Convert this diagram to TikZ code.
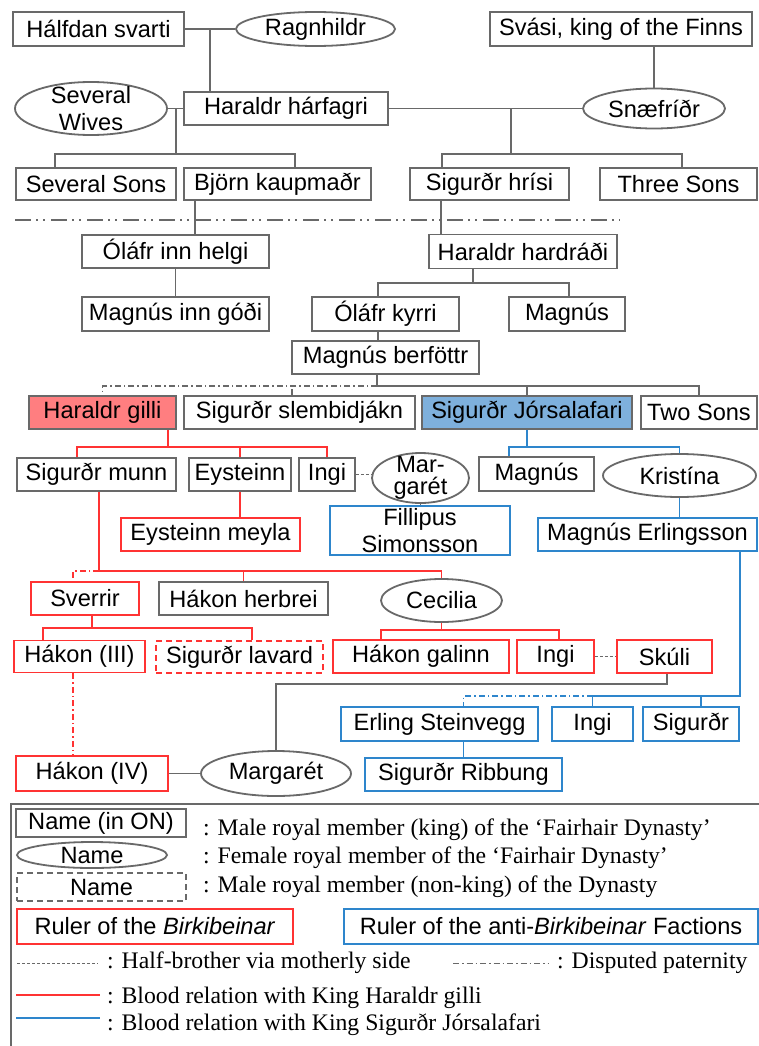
\documentclass[tikz,border=0pt]{standalone}
\usepackage{fontspec}
\setmainfont{Liberation Sans}
\newfontfamily\legendfont{Liberation Serif}
\usetikzlibrary{shapes.geometric}

\definecolor{linegray}{RGB}{105,105,105}
\definecolor{kinred}{RGB}{255,51,51}
\definecolor{kinblue}{RGB}{46,134,204}
\definecolor{gillifill}{RGB}{255,126,128}
\definecolor{jorfill}{RGB}{126,176,220}

\newcommand{\nodefont}{\fontsize{23.6}{27}\selectfont}
\newcommand{\legfont}{\legendfont\fontsize{23.7}{27}\selectfont}

\begin{document}
\begin{tikzpicture}[x=1pt, y=-1pt,
    sz/.style 2 args={minimum width=#1pt, minimum height=#2pt},
    male/.style={draw=linegray, rectangle, line width=1.8pt, inner sep=0pt, font=\nodefont},
    female/.style={draw=linegray, ellipse, line width=1.8pt, inner sep=0pt, font=\nodefont},
    nonking/.style={male, dash pattern=on 6pt off 4pt},
    birk/.style={male, draw=kinred},
    anti/.style={male, draw=kinblue},
    kin/.style={draw=linegray, line width=1.8pt},
    redkin/.style={draw=kinred, line width=1.8pt},
    bluekin/.style={draw=kinblue, line width=1.8pt},
    disp/.style={dash pattern=on 6pt off 3pt on 1.5pt off 3pt},
    halfbro/.style={kin, dash pattern=on 3pt off 2pt},
    legend/.style={anchor=base west, inner sep=0pt, font=\legfont}
  ]
  \fill[white] (0,0) rectangle (759,1046);
  \useasboundingbox (0,0) rectangle (759,1046);

  % Nodes
  \node[male, sz={171}{34}] (halfdan) at (98.5,29) {Hálfdan svarti};
  \node[female, sz={159}{34}] (ragnhildr) at (315.5,29) {Ragnhildr};
  \node[male, sz={262}{34}] (svasi) at (621,29) {Svási, king of the Finns};
  \node[female, sz={152}{53}, label={[align=center, font=\nodefont]center:{Several\\Wives}}] (wives) at (91,108.5) {};
  \node[male, sz={204}{33}] (harfagri) at (286,108.5) {Haraldr hárfagri};
  \node[female, sz={142}{40}] (snaefridr) at (654,108.5) {Snæfríðr};
  \node[male, sz={160}{32}] (sevsons) at (96,184) {Several Sons};
  \node[male, sz={187}{32}] (bjorn) at (277.5,184) {Björn kaupmaðr};
  \node[male, sz={159}{32}] (hrisi) at (489.5,184) {Sigurðr hrísi};
  \node[male, sz={157}{32}] (threesons) at (678.5,184) {Three Sons};

  \node[male, sz={187}{33}] (olafh) at (175.5,251.5) {Óláfr inn helgi};
  \node[male, sz={188}{34}] (hardradi) at (523,251.5) {Haraldr hardráði};
  \node[male, sz={187}{34}] (godi) at (175.5,314) {Magnús inn góði};
  \node[male, sz={147}{34}] (kyrri) at (385.5,314) {Óláfr kyrri};
  \node[male, sz={116}{34}] (magnus1) at (567,314) {Magnús};
  \node[male, sz={187}{33}] (berfottr) at (385.5,357.5) {Magnús berföttr};

  \node[male, fill=gillifill, sz={147}{33}] (gilli) at (102.5,412.5) {Haraldr gilli};
  \node[male, sz={231}{33}] (slembi) at (299.5,412.5) {Sigurðr slembidjákn};
  \node[male, fill=jorfill, sz={210}{33}] (jorsal) at (527,412.5) {Sigurðr Jórsalafari};
  \node[male, sz={116}{33}] (twosons) at (699,412.5) {Two Sons};

  \node[male, sz={159}{33}] (munn) at (96.5,474.5) {Sigurðr munn};
  \node[male, sz={102}{33}] (eysteinn) at (240,474.5) {Eysteinn};
  \node[male, sz={56}{33}] (ingi1) at (327,474.5) {Ingi};
  \node[female, sz={97}{50}, label={[align=center, font=\fontsize{23.6}{22}\selectfont]center:{Mar-\\garét}}] (margaret1) at (420.5,478) {};
  \node[male, sz={115}{34}] (magnus2) at (536.5,474) {Magnús};
  \node[female, sz={153}{43}] (kristina) at (679.5,475.5) {Kristína};

  \node[birk, sz={179}{33}] (meyla) at (210.5,534.5) {Eysteinn meyla};
  \node[anti, sz={180}{49}, align=center] (fillipus) at (420,530.5) {Fillipus\\Simonsson};
  \node[anti, sz={219}{33}] (erlingsson) at (647.5,534.5) {Magnús Erlingsson};

  \node[birk, sz={108}{33}] (sverrir) at (85,598.5) {Sverrir};
  \node[male, sz={169}{33}] (herbrei) at (243.5,598.5) {Hákon herbrei};
  \node[female, sz={121}{43}] (cecilia) at (441.5,600.5) {Cecilia};

  \node[birk, sz={131}{32}] (hakon3) at (79.5,656.5) {Hákon (III)};
  \node[nonking, draw=kinred, sz={167}{32}] (lavard) at (239.5,657) {Sigurðr lavard};
  \node[birk, sz={176}{33}] (galinn) at (421,656.5) {Hákon galinn};
  \node[birk, sz={77}{33}] (ingi2) at (555.5,656.5) {Ingi};
  \node[birk, sz={95}{33}] (skuli) at (664.5,656.5) {Skúli};

  \node[anti, sz={197}{34}] (erling) at (439.5,724) {Erling Steinvegg};
  \node[anti, sz={81}{34}] (ingi3) at (592.5,724) {Ingi};
  \node[anti, sz={96}{34}] (sigurdr) at (691,724) {Sigurðr};

  \node[birk, sz={152}{35}] (hakon4) at (92,773.5) {Hákon (IV)};
  \node[female, sz={150}{45}] (margaret2) at (276,773.5) {Margarét};
  \node[anti, sz={197}{33}] (ribbung) at (463.5,774.5) {Sigurðr Ribbung};

  % Lines
  \draw[kin] (halfdan.east) -- (ragnhildr.west);
  \coordinate (m1) at (210,29);
  \draw[kin] (m1) -- (m1 |- harfagri.north);
  \draw[kin] (wives.east) -- (harfagri.west);
  \draw[kin] (harfagri.east) -- (snaefridr.west);
  \draw[kin] (svasi.south -| snaefridr.north) -- (snaefridr.north);
  \coordinate (b2) at (176,154);
  \draw[kin] (b2 |- harfagri.west) -- (b2) -| ([xshift=-41pt]sevsons.north);
  \draw[kin] (b2) -| ([xshift=17.5pt]bjorn.north);
  \coordinate (b3) at (511,154);
  \draw[kin] (b3 |- harfagri.east) -- (b3) -| ([xshift=-47.5pt]hrisi.north);
  \draw[kin] (b3) -| ([xshift=3.5pt]threesons.north);

  \draw[kin, dash pattern=on 16pt off 5pt on 2pt off 5pt on 2pt off 6pt] (15,220) -- (620,220);

  \draw[kin] ([xshift=-82.5pt]bjorn.south) -- ([xshift=-82.5pt]bjorn.south |- olafh.north);
  \draw[kin] ([xshift=-48.5pt]hrisi.south) -- ([xshift=-48.5pt]hrisi.south |- hardradi.north);
  \draw[kin] (olafh.south) -- (godi.north);
  \coordinate (b4) at (473,283);
  \draw[kin] (b4 |- hardradi.south) -- (b4) -| ([xshift=-7.5pt]kyrri.north);
  \draw[kin] (b4) -| ([xshift=2pt]magnus1.north);
  \draw[kin] ([xshift=-7.5pt]kyrri.south) -- ([xshift=-7.5pt]kyrri.south |- berfottr.north);
  \coordinate (b5) at (377,386);
  \draw[kin] (b5 |- berfottr.south) -- (b5) -| (twosons.north);
  \draw[kin] (b5 -| jorsal.north) -- (jorsal.north);
  \draw[kin, disp] (b5) -| (gilli.north);
  \draw[kin, disp] ([xshift=-7.5pt]slembi.north) -- ([xshift=-7.5pt]slembi.north |- b5);

  \coordinate (b6) at (168,447);
  \draw[redkin] (b6 |- gilli.south) -- (b6) -| ([xshift=-19.5pt]munn.north);
  \draw[redkin] (b6) -| (ingi1.north);
  \draw[redkin] (b6 -| eysteinn.north) -- (eysteinn.north);
  \draw[redkin] (eysteinn.south) -- (eysteinn.south |- meyla.north);
  \draw[halfbro] (ingi1.east) -- (ingi1.east -| margaret1.west);
  \draw[kin] (margaret1.south) -- (margaret1.south |- fillipus.north);
  \coordinate (b7) at (99,571);
  \draw[redkin] (b7 |- munn.south) -- (b7) -| (cecilia.north);
  \draw[redkin] (b7 -| herbrei.north) -- (herbrei.north);
  \draw[redkin, disp] (b7) -| ([xshift=-12pt]sverrir.north);
  \coordinate (b8) at (92,628);
  \draw[redkin] (b8 |- sverrir.south) -- (b8) -| ([xshift=-36.5pt]hakon3.north);
  \draw[redkin] (b8) -| ([xshift=12.5pt]lavard.north);
  \draw[redkin, disp] ([xshift=-6.5pt]hakon3.south) -- ([xshift=-6.5pt]hakon3.south |- hakon4.north);
  \coordinate (b9) at (441.5,630);
  \draw[redkin] (cecilia.south) -- (b9) -| ([xshift=-40pt]galinn.north);
  \draw[redkin] (b9) -| ([xshift=3.5pt]ingi2.north);
  \draw[halfbro] (ingi2.east) -- (skuli.west);
  \draw[kin] (hakon4.east) -- (hakon4.east -| margaret2.west);
  \coordinate (b10) at (276,684);
  \draw[kin] (margaret2.north) -- (b10) -| ([xshift=2.5pt]skuli.south);

  \coordinate (b11) at (527,447);
  \draw[bluekin] (jorsal.south) -- (b11) -| ([xshift=-27.5pt]magnus2.north);
  \draw[bluekin] (b11) -| (kristina.north);
  \draw[bluekin] (kristina.south) -- (kristina.south |- erlingsson.north);
  \coordinate (b12) at (740,696);
  \draw[bluekin] (b12 |- erlingsson.south) -- (b12) -| (ingi3.north);
  \draw[bluekin] ([xshift=10pt]sigurdr.north) -- ([xshift=10pt]sigurdr.north |- b12);
  \draw[bluekin, disp] (b12 -| ingi3.north) -| ([xshift=24pt]erling.north);
  \draw[bluekin] ([xshift=24pt]erling.south) -- (ribbung.north);

  % Legend
  \draw[kin] (11,1046) -- (11,804) -- (759,804);
  \node[male, sz={170}{28}] (lking) at (101,823) {Name (in ON)};
  \node[female, sz={150}{26}] (lfem) at (92,855) {Name};
  \node[nonking, sz={169}{28}] (lnon) at (101.5,887) {Name};
  \node[legend] (tking) at (203,835) {: Male royal member (king) of the ‘Fairhair Dynasty’};
  \node[legend] (tfem) at (203,863) {: Female royal member of the ‘Fairhair Dynasty’};
  \node[legend] (tnon) at (203,892) {: Male royal member (non-king) of the Dynasty};
  \node[birk, sz={276}{35}] (lbirk) at (155,926.5) {Ruler of the \textit{Birkibeinar}};
  \node[anti, sz={414}{35}] (lanti) at (551,926.5) {Ruler of the anti-\textit{Birkibeinar} Factions};
  \node[legend] (thalf) at (107,968) {: Half-brother via motherly side};
  \node[legend] (tdisp) at (557,968) {: Disputed paternity};
  \node[legend] (tred) at (107,1003) {: Blood relation with King Haraldr gilli};
  \node[legend] (tblue) at (107,1030) {: Blood relation with King Sigurðr Jórsalafari};
  \coordinate (lh) at (17,963);
  \coordinate (ld) at (453,963);
  \coordinate (lr) at (16,995);
  \coordinate (lb) at (16,1018);
  \draw[halfbro, line width=1pt, shorten >=9pt] (lh) -- (lh -| thalf.west);
  \draw[kin, disp, line width=1pt, shorten >=9pt] (ld) -- (ld -| tdisp.west);
  \draw[redkin, shorten >=7pt] (lr) -- (lr -| tred.west);
  \draw[bluekin, shorten >=7pt] (lb) -- (lb -| tblue.west);
\end{tikzpicture}
\end{document}
